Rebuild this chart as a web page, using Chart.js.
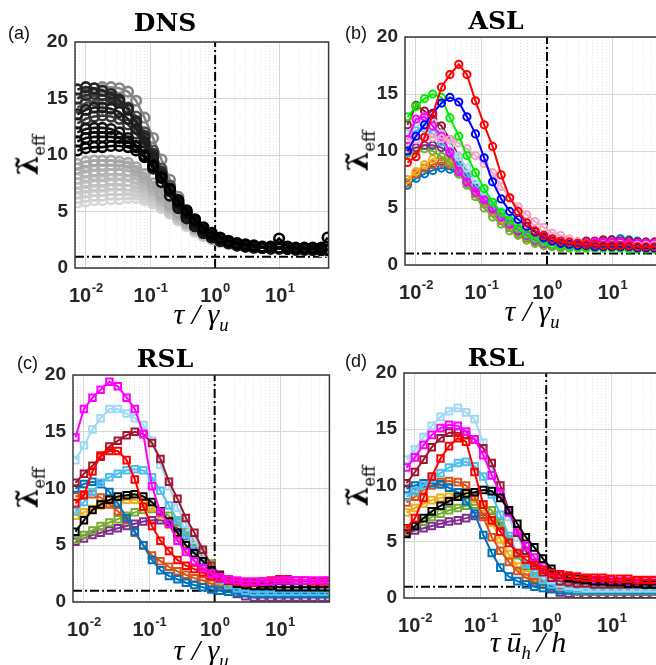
<!DOCTYPE html>
<html>
<head>
<meta charset="utf-8">
<script src="https://cdn.jsdelivr.net/npm/chart.js@4.4.0/dist/chart.umd.min.js"></script>
<style>
html, body { margin: 0; padding: 0; width: 656px; height: 665px; overflow: hidden; background: #fff; }
body { position: relative; font-family: 'Liberation Sans', Arial, sans-serif; }
canvas { position: absolute; }
.tag { position: absolute; font-size: 18px; color: #111; }
.xlab { position: absolute; transform: translate(-50%, -50%); font: italic 30px 'Liberation Serif', serif; white-space: nowrap; color: #000; }
.xlab sub { font-size: 62%; }
.ylab { position: absolute; transform: translate(-50%, -50%) rotate(-90deg); font: bold 28px 'DejaVu Serif', serif; white-space: nowrap; color: #000; }
.ylab sub { font-size: 58%; font-weight: normal; }
</style>
</head>
<body>
<canvas id="chartA" width="336" height="308" style="left:0;top:0"></canvas>
<canvas id="chartB" width="338" height="305" style="left:330px;top:0"></canvas>
<canvas id="chartC" width="336" height="312" style="left:0;top:330px"></canvas>
<canvas id="chartD" width="338" height="308" style="left:330px;top:330px"></canvas>

<div class="tag" style="left:8px;top:23px">(a)</div>
<div class="tag" style="left:345px;top:23px">(b)</div>
<div class="tag" style="left:17px;top:353px">(c)</div>
<div class="tag" style="left:345px;top:351px">(d)</div>

<div class="ylab" style="left:30px;top:155px">λ̃<sub>eff</sub></div>
<div class="ylab" style="left:360px;top:151px">λ̃<sub>eff</sub></div>
<div class="ylab" style="left:30px;top:488px">λ̃<sub>eff</sub></div>
<div class="ylab" style="left:360px;top:486px">λ̃<sub>eff</sub></div>

<div class="xlab" style="left:201px;top:316px"><i>τ</i> / <i>γ</i><sub><i>u</i></sub></div>
<div class="xlab" style="left:532px;top:313px"><i>τ</i> / <i>γ</i><sub><i>u</i></sub></div>
<div class="xlab" style="left:201px;top:652px"><i>τ</i> / <i>γ</i><sub><i>u</i></sub></div>
<div class="xlab" style="left:528px;top:644px"><i>τ</i>&#8201;<i>ū</i><sub><i>h</i></sub>&#8201;/&#8201;<i>h</i></div>

<script>
// x positions shared by every curve
const tau = [0.0074, 0.01, 0.0135, 0.018, 0.0245, 0.033, 0.045, 0.06, 0.081, 0.11, 0.148, 0.2, 0.27, 0.363, 0.49, 0.66, 0.89, 1.2, 1.62, 2.19, 2.95, 3.98, 5.37, 7.24, 9.77, 13.2, 17.8, 24, 32.4, 43.7, 55];

// axis limits and ticks
const xMin = 0.0068, xMax = 57;
const yMin = 0, yMax = 20;
const decadeTicks = [0.01, 0.1, 1, 10];
const decadeExps = ['-2', '-1', '0', '1'];
const xGridTicks = [0.007, 0.008, 0.009, 0.01, 0.02, 0.03, 0.04, 0.05, 0.06, 0.07, 0.08, 0.09, 0.1, 0.2, 0.3, 0.4, 0.5, 0.6, 0.7, 0.8, 0.9, 1, 2, 3, 4, 5, 6, 7, 8, 9, 10, 20, 30, 40, 50];
const refLevel = 1; // dash-dot reference lines at x = 1 and y = 1

// (a) DNS, grey shades
const dnsG1 = [5.8, 5.9, 6.0, 6.0, 6.1, 6.1, 6.2, 6.2, 6.0, 5.7, 5.3, 4.8, 4.2, 3.7, 3.2, 2.8, 2.5, 2.3, 2.1, 2.0, 1.9, 1.8, 1.8, 1.7, 1.7, 1.7, 1.6, 1.6, 1.6, 1.5, 1.5];
const dnsG2 = [6.6, 6.7, 6.8, 6.8, 6.9, 6.9, 6.9, 6.8, 6.5, 6.0, 5.5, 4.9, 4.3, 3.8, 3.3, 2.9, 2.6, 2.3, 2.1, 2.0, 1.9, 1.8, 1.8, 1.7, 1.7, 1.7, 1.7, 1.6, 1.6, 1.6, 1.6];
const dnsG3 = [7.5, 7.6, 7.7, 7.7, 7.8, 7.8, 7.7, 7.5, 7.1, 6.5, 5.9, 5.2, 4.5, 3.9, 3.4, 3.0, 2.6, 2.4, 2.2, 2.0, 1.9, 1.8, 1.8, 1.8, 1.7, 1.7, 1.7, 1.7, 1.6, 1.6, 1.6];
const dnsG4 = [8.3, 8.5, 8.6, 8.7, 8.7, 8.7, 8.6, 8.3, 7.7, 7.0, 6.2, 5.4, 4.7, 4.0, 3.5, 3.0, 2.7, 2.4, 2.2, 2.0, 1.9, 1.9, 1.8, 1.8, 1.8, 1.7, 1.7, 1.7, 1.7, 1.6, 1.6];
const dnsG5 = [9.2, 9.4, 9.5, 9.5, 9.5, 9.4, 9.3, 8.9, 8.3, 7.5, 6.6, 5.7, 4.9, 4.2, 3.6, 3.1, 2.8, 2.5, 2.2, 2.1, 2.0, 1.9, 1.8, 1.8, 1.8, 1.8, 1.7, 1.7, 1.7, 1.7, 1.7];
const dnsG6 = [15.0, 15.6, 15.9, 16.0, 16.0, 15.9, 15.6, 14.8, 13.3, 11.5, 9.6, 7.8, 6.3, 5.0, 4.1, 3.4, 2.9, 2.6, 2.3, 2.1, 2.0, 1.9, 1.9, 1.8, 1.8, 1.8, 1.7, 1.7, 1.7, 1.7, 1.7];
const dnsG7 = [14.2, 14.6, 14.8, 14.9, 14.9, 14.7, 14.2, 13.4, 12.0, 10.4, 8.8, 7.3, 6.0, 4.9, 4.0, 3.3, 2.9, 2.5, 2.3, 2.1, 2.0, 1.9, 1.8, 1.8, 1.8, 1.7, 1.7, 1.7, 1.7, 1.6, 1.6];
const dnsG8 = [12.8, 13.2, 13.4, 13.5, 13.4, 13.2, 12.7, 11.9, 10.8, 9.5, 8.1, 6.8, 5.6, 4.6, 3.8, 3.2, 2.8, 2.5, 2.3, 2.1, 2.0, 1.9, 1.8, 1.8, 1.8, 1.7, 1.7, 1.7, 1.6, 1.6, 1.6];
const dnsG9 = [15.8, 16.0, 15.9, 15.7, 15.4, 14.9, 14.1, 12.9, 11.5, 9.9, 8.3, 6.8, 5.5, 4.5, 3.7, 3.1, 2.7, 2.4, 2.2, 2.0, 1.9, 1.9, 1.8, 1.8, 1.8, 1.7, 1.7, 1.7, 1.7, 1.6, 1.6];
const dnsG10 = [12.0, 12.3, 12.4, 12.4, 12.3, 12.0, 11.5, 10.8, 9.9, 8.8, 7.6, 6.4, 5.3, 4.4, 3.7, 3.1, 2.7, 2.4, 2.2, 2.0, 1.9, 1.8, 1.8, 1.7, 1.7, 1.7, 1.6, 1.6, 1.6, 1.6, 1.6];
const dnsG11 = [10.4, 10.6, 10.7, 10.7, 10.8, 10.8, 10.7, 10.4, 9.8, 9.0, 8.0, 7.0, 6.0, 5.1, 4.3, 3.6, 3.1, 2.7, 2.4, 2.2, 2.1, 2.0, 1.9, 1.9, 2.6, 1.9, 1.8, 1.8, 1.8, 1.8, 2.7];
const dnsG12 = [11.2, 11.5, 11.6, 11.6, 11.6, 11.5, 11.2, 10.7, 10.0, 9.1, 8.0, 6.9, 5.8, 4.9, 4.1, 3.4, 2.9, 2.6, 2.3, 2.1, 2.0, 1.9, 1.8, 1.8, 1.8, 1.7, 1.7, 1.7, 1.7, 1.6, 1.6];
const dnsG13 = [13.6, 14.0, 14.2, 14.2, 14.1, 13.8, 13.2, 12.3, 11.1, 9.7, 8.2, 6.9, 5.7, 4.7, 3.9, 3.2, 2.8, 2.5, 2.3, 2.1, 2.0, 1.9, 1.8, 1.8, 1.8, 1.7, 1.7, 1.7, 1.7, 1.6, 1.6];
const dnsG14 = [15.0, 15.3, 15.4, 15.3, 15.1, 14.7, 14.0, 13.0, 11.7, 10.1, 8.5, 7.0, 5.7, 4.6, 3.8, 3.2, 2.8, 2.5, 2.2, 2.1, 2.0, 1.9, 1.8, 1.8, 1.8, 1.7, 1.7, 1.7, 1.7, 1.6, 1.6];
const dnsG15 = [6.2, 6.3, 6.4, 6.4, 6.5, 6.5, 6.5, 6.5, 6.2, 5.9, 5.4, 4.9, 4.3, 3.8, 3.3, 2.9, 2.6, 2.3, 2.1, 2.0, 1.9, 1.8, 1.8, 1.7, 1.7, 1.7, 1.6, 1.6, 1.6, 1.6, 1.6];
const dnsG16 = [7.1, 7.2, 7.3, 7.3, 7.4, 7.4, 7.3, 7.2, 6.8, 6.3, 5.7, 5.0, 4.4, 3.9, 3.4, 2.9, 2.6, 2.4, 2.2, 2.0, 1.9, 1.8, 1.8, 1.7, 1.7, 1.7, 1.7, 1.6, 1.6, 1.6, 1.6];
const dnsG17 = [7.9, 8.1, 8.2, 8.2, 8.3, 8.3, 8.2, 7.9, 7.4, 6.8, 6.0, 5.3, 4.6, 4.0, 3.4, 3.0, 2.7, 2.4, 2.2, 2.0, 1.9, 1.8, 1.8, 1.8, 1.7, 1.7, 1.7, 1.7, 1.6, 1.6, 1.6];
const dnsG18 = [8.8, 9.0, 9.1, 9.1, 9.1, 9.1, 9.0, 8.6, 8.0, 7.2, 6.4, 5.5, 4.8, 4.1, 3.5, 3.1, 2.7, 2.4, 2.2, 2.1, 2.0, 1.9, 1.8, 1.8, 1.8, 1.7, 1.7, 1.7, 1.7, 1.7, 1.7];

// (b) ASL
const aslRed = [9.0, 9.5, 11.2, 13.2, 15.6, 16.7, 17.6, 16.7, 14.4, 12.3, 10.4, 7.9, 5.9, 4.7, 3.7, 3.0, 2.6, 2.3, 2.1, 2.0, 1.9, 1.8, 1.8, 1.7, 1.7, 1.7, 1.7, 1.6, 1.6, 1.6, 1.6];
const aslBlue = [10.0, 11.3, 12.3, 13.3, 14.2, 14.7, 14.3, 13.0, 11.5, 9.4, 7.3, 5.8, 4.7, 4.0, 3.4, 2.9, 2.4, 2.1, 1.9, 1.8, 1.7, 1.7, 1.6, 1.6, 1.6, 1.6, 1.6, 1.5, 1.5, 1.5, 1.5];
const aslGreen = [13.0, 13.9, 14.6, 15.0, 14.7, 12.9, 11.3, 9.6, 8.1, 6.7, 5.5, 4.6, 3.9, 3.2, 2.7, 2.3, 2.0, 1.8, 1.7, 1.6, 1.6, 1.5, 1.5, 1.5, 1.5, 1.5, 1.4, 1.4, 1.4, 1.4, 1.4];
const aslPink = [10.8, 11.0, 11.2, 11.2, 11.1, 11.0, 10.7, 10.2, 9.6, 8.9, 8.1, 6.9, 5.9, 5.1, 4.4, 3.8, 3.3, 2.8, 2.6, 2.3, 2.0, 1.8, 1.7, 1.7, 1.7, 1.7, 1.7, 1.7, 1.7, 1.7, 1.7];
const aslMagenta = [11.0, 12.8, 13.0, 12.2, 11.3, 9.9, 8.2, 7.3, 6.4, 5.7, 4.9, 4.2, 3.6, 3.1, 2.6, 2.2, 1.9, 1.8, 1.8, 1.8, 1.9, 1.9, 2.0, 2.0, 2.0, 2.0, 1.9, 1.9, 1.9, 1.9, 1.9];
const aslLightBlue = [11.5, 12.5, 13.0, 12.5, 11.5, 10.5, 9.5, 8.5, 7.5, 6.5, 5.5, 4.7, 4.0, 3.3, 2.8, 2.4, 2.1, 1.9, 1.8, 1.8, 1.7, 1.7, 1.7, 1.7, 1.7, 1.8, 1.8, 1.8, 1.8, 1.8, 1.8];
const aslDarkRed = [12.3, 14.0, 13.5, 12.8, 12.2, 11.0, 9.5, 8.0, 7.0, 6.0, 5.2, 4.5, 3.9, 3.3, 2.8, 2.4, 2.0, 1.9, 1.9, 2.0, 2.0, 2.1, 2.1, 2.2, 2.2, 2.1, 2.1, 2.0, 2.0, 2.0, 2.0];
const aslPurple = [10.0, 10.3, 10.5, 10.5, 10.3, 9.8, 8.8, 7.8, 6.8, 5.8, 5.0, 4.3, 3.6, 3.0, 2.6, 2.2, 1.9, 1.8, 1.8, 1.8, 1.8, 1.8, 1.9, 1.9, 1.9, 1.9, 1.8, 1.8, 1.8, 1.8, 1.8];
const aslOlive = [9.8, 10.0, 10.2, 10.0, 9.5, 9.0, 8.0, 7.0, 6.0, 5.0, 4.2, 3.6, 3.0, 2.6, 2.2, 1.9, 1.7, 1.6, 1.5, 1.5, 1.5, 1.5, 1.5, 1.5, 1.5, 1.5, 1.5, 1.5, 1.5, 1.5, 1.5];
const aslYellow = [7.5, 8.2, 8.8, 9.3, 9.5, 9.2, 8.5, 7.5, 6.5, 5.5, 4.7, 4.0, 3.4, 2.9, 2.5, 2.2, 1.9, 1.8, 1.7, 1.7, 1.7, 1.7, 1.7, 1.7, 1.7, 1.7, 1.7, 1.7, 1.7, 1.7, 1.7];
const aslOrange = [7.2, 8.0, 8.5, 8.8, 9.0, 8.8, 8.2, 7.3, 6.3, 5.4, 4.6, 3.9, 3.3, 2.8, 2.4, 2.1, 1.9, 1.7, 1.6, 1.6, 1.6, 1.6, 1.6, 1.6, 1.6, 1.6, 1.6, 1.6, 1.6, 1.6, 1.6];
const aslMBlue = [7.0, 7.6, 8.0, 8.3, 8.5, 8.4, 8.0, 7.2, 6.3, 5.4, 4.6, 3.9, 3.3, 2.8, 2.4, 2.1, 1.9, 1.7, 1.7, 1.7, 1.8, 1.9, 2.0, 2.1, 2.2, 2.3, 2.2, 2.1, 2.0, 2.0, 2.0];
const aslSky = [11.0, 11.8, 12.0, 11.5, 10.8, 10.0, 9.0, 8.0, 7.0, 6.0, 5.2, 4.4, 3.8, 3.2, 2.7, 2.3, 2.0, 1.8, 1.7, 1.7, 1.7, 1.7, 1.7, 1.8, 1.8, 1.8, 1.8, 1.8, 1.8, 1.8, 1.8];

// (c) RSL, scaled by gamma_u
const rslMagenta = [14.5, 17.0, 18.0, 18.7, 19.4, 19.0, 18.0, 17.0, 14.8, 10.2, 7.9, 6.9, 5.4, 4.4, 3.6, 3.0, 2.5, 2.2, 2.0, 1.9, 1.8, 1.8, 1.8, 1.8, 1.9, 1.9, 1.9, 1.9, 1.9, 1.9, 1.9];
const rslLightBlue = [12.5, 13.8, 15.2, 16.2, 17.0, 17.0, 16.6, 16.2, 15.6, 14.2, 12.1, 10.2, 8.3, 6.9, 5.5, 4.2, 3.2, 2.4, 2.0, 1.8, 1.7, 1.6, 1.6, 1.5, 1.5, 1.5, 1.5, 1.5, 1.5, 1.5, 1.5];
const rslDarkRed = [10.5, 11.3, 12.0, 12.8, 13.7, 14.2, 14.7, 15.0, 14.8, 14.0, 12.6, 10.6, 9.1, 7.4, 6.1, 4.6, 3.2, 2.4, 2.0, 1.8, 1.7, 1.7, 1.6, 1.6, 1.6, 1.6, 1.6, 1.6, 1.6, 1.6, 1.6];
const rslRed = [8.7, 9.4, 11.5, 12.9, 13.3, 13.3, 12.5, 10.8, 8.4, 6.7, 5.4, 4.5, 3.7, 3.2, 2.9, 2.6, 2.3, 2.1, 1.9, 1.8, 1.7, 1.7, 1.8, 1.9, 2.0, 2.0, 1.9, 1.9, 1.8, 1.8, 1.8];
const rslSky = [8.0, 8.8, 9.7, 10.5, 11.0, 11.3, 11.6, 11.7, 11.6, 11.0, 9.8, 8.5, 7.2, 5.9, 4.6, 3.5, 2.6, 1.9, 1.5, 1.2, 1.0, 0.9, 0.9, 0.9, 0.9, 0.9, 0.9, 0.9, 0.9, 0.9, 0.9];
const rslBlue = [10.0, 10.4, 10.6, 10.4, 9.7, 8.7, 7.4, 6.2, 5.0, 3.7, 2.8, 2.3, 2.0, 1.7, 1.5, 1.3, 1.1, 1.0, 0.9, 0.8, 0.8, 0.7, 0.7, 0.7, 0.7, 0.7, 0.7, 0.7, 0.7, 0.7, 0.7];
const rslOrange = [9.3, 9.5, 9.5, 9.2, 8.6, 8.0, 7.2, 6.1, 5.0, 4.1, 3.6, 3.1, 2.7, 2.4, 2.1, 1.9, 1.6, 1.4, 1.2, 1.1, 1.0, 1.0, 0.9, 0.9, 0.9, 0.9, 0.9, 0.9, 0.9, 0.9, 0.9];
const rslYellow = [7.6, 7.9, 8.2, 8.5, 8.7, 8.9, 9.0, 9.0, 8.8, 8.4, 7.7, 6.8, 5.7, 4.6, 3.6, 2.8, 2.2, 1.8, 1.5, 1.3, 1.2, 1.1, 1.0, 1.0, 1.0, 1.0, 1.0, 1.0, 1.0, 1.0, 1.0];
const rslBlack = [6.2, 7.2, 8.1, 8.6, 9.0, 9.3, 9.4, 9.5, 9.3, 8.8, 8.0, 7.1, 6.1, 5.0, 4.3, 3.6, 2.8, 2.3, 1.9, 1.6, 1.5, 1.4, 1.4, 1.4, 1.3, 1.3, 1.3, 1.3, 1.3, 1.3, 1.3];
const rslOlive = [5.5, 5.9, 6.3, 6.7, 7.0, 7.3, 7.6, 7.9, 8.1, 8.2, 8.0, 7.6, 7.0, 6.2, 5.4, 4.4, 3.4, 2.4, 1.6, 1.2, 1.0, 0.9, 0.8, 0.8, 0.8, 0.8, 0.8, 0.8, 0.8, 0.8, 0.8];
const rslPurple = [5.3, 5.6, 5.9, 6.1, 6.3, 6.5, 6.7, 6.9, 7.1, 7.2, 7.2, 7.0, 6.5, 5.8, 5.0, 4.0, 3.0, 2.0, 1.2, 0.7, 0.5, 0.4, 0.4, 0.4, 0.4, 0.4, 0.4, 0.4, 0.4, 0.4, 0.4];

// (d) RSL, scaled by u_h / h
const canMagenta = [11.6, 12.5, 13.6, 14.5, 15.1, 15.4, 15.3, 14.8, 14.1, 12.7, 10.9, 9.3, 7.6, 6.0, 4.6, 3.6, 2.8, 2.3, 2.0, 1.8, 1.7, 1.7, 1.6, 1.6, 1.6, 1.5, 1.5, 1.5, 1.5, 1.5, 1.5];
const canLightBlue = [12.3, 13.2, 14.3, 15.3, 16.1, 16.6, 16.9, 16.5, 15.9, 13.8, 11.5, 9.3, 7.2, 5.4, 4.0, 3.0, 2.2, 1.6, 1.3, 1.1, 1.0, 0.9, 0.9, 0.9, 0.9, 0.9, 0.9, 0.9, 0.9, 0.9, 0.9];
const canDarkRed = [10.2, 11.2, 12.3, 13.4, 14.2, 14.7, 14.7, 14.5, 14.1, 13.3, 12.0, 10.0, 7.8, 5.8, 4.2, 3.1, 2.3, 1.8, 1.5, 1.4, 1.3, 1.3, 1.2, 1.2, 1.2, 1.2, 1.2, 1.2, 1.2, 1.2, 1.2];
const canRed = [6.2, 7.1, 8.9, 10.8, 12.4, 13.5, 14.2, 13.9, 11.2, 8.3, 6.9, 5.9, 4.9, 4.0, 3.4, 2.9, 2.5, 2.2, 2.1, 2.0, 1.9, 1.8, 1.8, 1.8, 1.7, 1.7, 1.7, 1.6, 1.6, 1.6, 1.6];
const canSky = [9.0, 9.5, 10.0, 10.6, 11.1, 11.6, 12.0, 12.1, 11.7, 10.8, 9.2, 7.4, 5.5, 4.0, 3.0, 2.2, 1.6, 1.2, 1.0, 0.9, 0.8, 0.8, 0.8, 0.8, 0.8, 0.8, 0.8, 0.8, 0.8, 0.8, 0.8];
const canBlue = [9.7, 10.0, 10.2, 10.2, 10.1, 9.8, 9.4, 8.6, 7.5, 5.6, 4.0, 2.7, 1.9, 1.5, 1.2, 1.0, 0.9, 0.8, 0.7, 0.7, 0.7, 0.7, 0.7, 0.7, 0.7, 0.7, 0.7, 0.7, 0.7, 0.7, 0.7];
const canOrange = [8.5, 9.0, 9.6, 10.0, 10.3, 10.4, 10.3, 10.0, 9.0, 7.2, 5.4, 4.2, 3.2, 2.4, 1.8, 1.4, 1.2, 1.0, 0.9, 0.9, 0.8, 0.8, 0.8, 0.8, 0.8, 0.8, 0.8, 0.8, 0.8, 0.8, 0.8];
const canYellow = [7.6, 8.0, 8.4, 8.7, 8.9, 9.0, 9.1, 9.1, 8.8, 8.0, 6.7, 5.2, 3.9, 2.8, 2.1, 1.6, 1.3, 1.1, 1.0, 0.9, 0.9, 0.9, 0.9, 0.9, 0.9, 0.9, 0.9, 0.9, 0.9, 0.9, 0.9];
const canBlack = [5.7, 6.4, 7.1, 7.7, 8.2, 8.6, 9.0, 9.3, 9.4, 9.6, 9.5, 8.9, 7.8, 6.6, 5.4, 4.5, 3.5, 2.6, 2.1, 1.8, 1.7, 1.6, 1.5, 1.5, 1.4, 1.4, 1.3, 1.3, 1.2, 1.2, 1.2];
const canOlive = [6.0, 6.4, 6.8, 7.2, 7.5, 7.8, 8.0, 8.2, 8.3, 8.3, 7.8, 6.7, 5.2, 3.8, 2.7, 1.9, 1.3, 1.0, 0.8, 0.7, 0.6, 0.6, 0.6, 0.6, 0.6, 0.6, 0.6, 0.6, 0.6, 0.6, 0.6];
const canPurple = [5.8, 6.0, 6.2, 6.4, 6.6, 6.8, 6.9, 7.1, 7.3, 7.4, 7.2, 6.4, 5.2, 3.9, 2.8, 1.9, 1.2, 0.8, 0.5, 0.4, 0.3, 0.3, 0.3, 0.3, 0.3, 0.3, 0.3, 0.3, 0.3, 0.3, 0.3];

// Build one line+marker dataset
function makeSeries(values, color, style, radius, width) {
    const w = width || 2;
    return {
        data: tau.map((t, i) => ({ x: t, y: values[i] })),
        borderColor: color,
        backgroundColor: 'rgba(255,255,255,0)',
        pointBorderColor: color,
        pointBackgroundColor: 'rgba(255,255,255,0)',
        pointStyle: style,
        pointRadius: radius,
        pointBorderWidth: w,
        borderWidth: w,
        tension: 0
    };
}

// Dash-dot reference lines, drawn under the data
function refLines() {
    const common = { borderColor: '#000', borderWidth: 2, borderDash: [9, 3, 2, 3], pointRadius: 0, fill: false };
    return [
        Object.assign({ data: [{ x: xMin, y: refLevel }, { x: xMax, y: refLevel }] }, common),
        Object.assign({ data: [{ x: refLevel, y: yMin }, { x: refLevel, y: yMax }] }, common)
    ];
}

// Box around the plot area (MATLAB "box on")
const boxPlugin = {
    id: 'box',
    afterDraw(chart) {
        const a = chart.chartArea;
        const ctx = chart.ctx;
        ctx.save();
        ctx.strokeStyle = '#3a3a3a';
        ctx.lineWidth = 1.5;
        ctx.strokeRect(a.left, a.top, a.right - a.left, a.bottom - a.top);
        ctx.restore();
    }
};

// Decade labels 10^k with a raised exponent
const decadeLabelPlugin = {
    id: 'decadeLabels',
    afterDraw(chart) {
        const sx = chart.scales.x;
        const ctx = chart.ctx;
        const base = chart.chartArea.bottom + 34;
        ctx.save();
        ctx.fillStyle = '#262626';
        ctx.textBaseline = 'alphabetic';
        ctx.textAlign = 'left';
        decadeTicks.forEach((v, i) => {
            const x = sx.getPixelForValue(v);
            ctx.font = 'bold 20px "Liberation Sans"';
            const w1 = ctx.measureText('10').width;
            ctx.font = 'bold 13px "Liberation Sans"';
            const w2 = ctx.measureText(decadeExps[i]).width;
            const left = x - (w1 + w2) / 2;
            ctx.font = 'bold 20px "Liberation Sans"';
            ctx.fillText('10', left, base);
            ctx.font = 'bold 13px "Liberation Sans"';
            ctx.fillText(decadeExps[i], left + w1 + 0.5, base - 10);
        });
        ctx.restore();
    }
};

function makePanel(id, title, titlePad, yWidth, datasets) {
    new Chart(document.getElementById(id), {
        type: 'line',
        data: { datasets: datasets.concat(refLines()) },
        plugins: [boxPlugin, decadeLabelPlugin],
        options: {
            responsive: false,
            animation: false,
            layout: { padding: { left: 0, right: 6, top: 0, bottom: 0 } },
            plugins: {
                legend: { display: false },
                tooltip: { enabled: false },
                title: {
                    display: true,
                    text: title,
                    color: '#000',
                    font: { family: 'DejaVu Serif', size: 25, weight: 'bold', lineHeight: 1 },
                    padding: titlePad
                }
            },
            scales: {
                x: {
                    type: 'logarithmic',
                    min: xMin,
                    max: xMax,
                    afterBuildTicks: (scale) => { scale.ticks = xGridTicks.map(v => ({ value: v })); },
                    afterFit: (scale) => { scale.height = 40; },
                    ticks: {
                        autoSkip: false,
                        maxRotation: 0,
                        minRotation: 0,
                        callback: () => ''
                    },
                    grid: {
                        drawTicks: false,
                        lineWidth: 1,
                        color: (c) => (c.tick && decadeTicks.includes(c.tick.value)) ? '#d6d6d6' : '#e4e4e4'
                    },
                    border: {
                        display: false,
                        dash: (c) => (c.tick && decadeTicks.includes(c.tick.value)) ? [] : [1, 2]
                    }
                },
                y: {
                    min: yMin,
                    max: yMax,
                    afterFit: (scale) => { scale.width = yWidth; },
                    ticks: {
                        stepSize: 5,
                        padding: 7,
                        color: '#262626',
                        font: { family: 'Liberation Sans', size: 19, weight: 'bold' }
                    },
                    grid: { drawTicks: false, color: '#d6d6d6', lineWidth: 1 },
                    border: { display: false }
                }
            }
        }
    });
}

const circ = 'circle', sq = 'rect';

makePanel('chartA', 'DNS', { top: 12, bottom: 5 }, 75, [
    makeSeries(dnsG11, '#000000', circ, 4.8, 2.6),
    makeSeries(dnsG12, '#0a0a0a', circ, 4.8, 2.6),
    makeSeries(dnsG10, '#141414', circ, 4.8, 2.6),
    makeSeries(dnsG13, '#1c1c1c', circ, 4.8, 2.6),
    makeSeries(dnsG9, '#242424', circ, 4.8, 2.6),
    makeSeries(dnsG14, '#2e2e2e', circ, 4.8, 2.6),
    makeSeries(dnsG8, '#383838', circ, 4.8, 2.6),
    makeSeries(dnsG7, '#505050', circ, 4.8, 2.6),
    makeSeries(dnsG6, '#858585', circ, 4.8, 2.6),
    makeSeries(dnsG5, '#a6a6a6', circ, 4.8, 2.6),
    makeSeries(dnsG18, '#aeaeae', circ, 4.8, 2.6),
    makeSeries(dnsG4, '#b4b4b4', circ, 4.8, 2.6),
    makeSeries(dnsG17, '#bababa', circ, 4.8, 2.6),
    makeSeries(dnsG3, '#c0c0c0', circ, 4.8, 2.6),
    makeSeries(dnsG16, '#c6c6c6', circ, 4.8, 2.6),
    makeSeries(dnsG2, '#cbcbcb', circ, 4.8, 2.6),
    makeSeries(dnsG15, '#d1d1d1', circ, 4.8, 2.6),
    makeSeries(dnsG1, '#d6d6d6', circ, 4.8, 2.6)
]);

makePanel('chartB', 'ASL', { top: 10, bottom: 2 }, 75, [
    makeSeries(aslRed, '#ff0000', circ, 3.6),
    makeSeries(aslBlue, '#0000ff', circ, 3.6),
    makeSeries(aslGreen, '#00ee00', circ, 3.6),
    makeSeries(aslPink, '#f5a3c7', circ, 3.6),
    makeSeries(aslMagenta, '#ff00ff', circ, 3.6),
    makeSeries(aslLightBlue, '#a6dcf5', circ, 3.6),
    makeSeries(aslSky, '#4dbeee', circ, 3.6),
    makeSeries(aslDarkRed, '#a2142f', circ, 3.6),
    makeSeries(aslPurple, '#7e2f8e', circ, 3.6),
    makeSeries(aslOlive, '#77ac30', circ, 3.6),
    makeSeries(aslYellow, '#edb120', circ, 3.6),
    makeSeries(aslOrange, '#d95319', circ, 3.6),
    makeSeries(aslMBlue, '#0072bd', circ, 3.6)
]);

makePanel('chartC', 'RSL', { top: 18, bottom: 2 }, 73, [
    makeSeries(rslMagenta, '#ff00ff', sq, 4.6),
    makeSeries(rslRed, '#ff0000', sq, 4.6),
    makeSeries(rslBlack, '#000000', sq, 4.6),
    makeSeries(rslDarkRed, '#a2142f', sq, 4.6),
    makeSeries(rslLightBlue, '#9fd9f3', sq, 4.6),
    makeSeries(rslSky, '#4dbeee', sq, 4.6),
    makeSeries(rslBlue, '#0072bd', sq, 4.6),
    makeSeries(rslOrange, '#d95319', sq, 4.6),
    makeSeries(rslYellow, '#edb120', sq, 4.6),
    makeSeries(rslOlive, '#77ac30', sq, 4.6),
    makeSeries(rslPurple, '#7e2f8e', sq, 4.6)
]);

makePanel('chartD', 'RSL', { top: 17, bottom: 1 }, 74, [
    makeSeries(canRed, '#ff0000', sq, 4.6),
    makeSeries(canBlack, '#000000', sq, 4.6),
    makeSeries(canMagenta, '#ff00ff', sq, 4.6),
    makeSeries(canDarkRed, '#a2142f', sq, 4.6),
    makeSeries(canLightBlue, '#9fd9f3', sq, 4.6),
    makeSeries(canSky, '#4dbeee', sq, 4.6),
    makeSeries(canBlue, '#0072bd', sq, 4.6),
    makeSeries(canOrange, '#d95319', sq, 4.6),
    makeSeries(canYellow, '#edb120', sq, 4.6),
    makeSeries(canOlive, '#77ac30', sq, 4.6),
    makeSeries(canPurple, '#7e2f8e', sq, 4.6)
]);
</script>
</body>
</html>
